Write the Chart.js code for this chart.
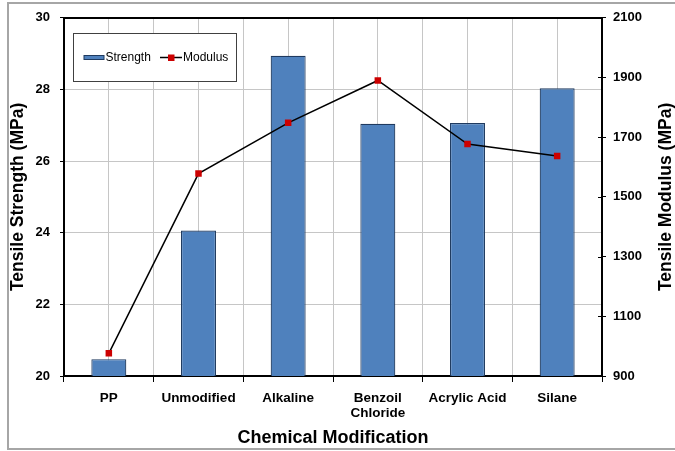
<!DOCTYPE html>
<html>
<head>
<meta charset="utf-8">
<script src="https://cdn.jsdelivr.net/npm/chart.js@4.4.1/dist/chart.umd.min.js"></script>
<style>
  html,body{margin:0;padding:0;background:#fff;}
  #wrap{width:675px;height:451px;position:relative;}
</style>
</head>
<body>
<div id="wrap"><canvas id="c" width="675" height="451"></canvas></div>
<script>
const categories = ['PP', 'Unmodified', 'Alkaline', ['Benzoil', 'Chloride'], 'Acrylic Acid', 'Silane'];
const strengthValues = [20.47, 24.06, 28.94, 27.04, 27.06, 28.03];
const modulusValues = [976, 1578, 1748, 1890, 1677, 1637];
const strengthTicks = [20, 22, 24, 26, 28, 30];
const modulusTicks = [900, 1100, 1300, 1500, 1700, 1900, 2100];
const seriesNames = ['Strength', 'Modulus'];
const xTitle = 'Chemical Modification';
const yTitle = 'Tensile Strength (MPa)';
const y1Title = 'Tensile Modulus (MPa)';

const FONT = "'Liberation Sans', Arial, sans-serif";
const BAR_FILL = '#4F81BD';
const BAR_EDGE = '#1F3A5F';
const MARK = '#CC0000';
const GRID = '#C6C6C6';

const frame = {
  id: 'frame',
  beforeDraw(chart) {
    const ctx = chart.ctx;
    ctx.save();
    ctx.fillStyle = '#fff';
    ctx.fillRect(0, 0, chart.width, chart.height);
    ctx.strokeStyle = '#A6A6A6';
    ctx.lineWidth = 2;
    ctx.strokeRect(8, 3, 720, 446);
    ctx.restore();
  },
  afterDraw(chart) {
    const ctx = chart.ctx;
    const s = chart.scales.y1;
    ctx.save();
    // inner half of right-axis cross ticks
    ctx.strokeStyle = '#000';
    ctx.lineWidth = 1;
    s.ticks.forEach(t => {
      const y = Math.round(s.getPixelForValue(t.value)) + 0.5;
      ctx.beginPath();
      ctx.moveTo(s.left - 4, y);
      ctx.lineTo(s.left, y);
      ctx.stroke();
    });
    // right axis title, reading bottom-to-top
    ctx.save();
    ctx.translate(666, (chart.chartArea.top + chart.chartArea.bottom) / 2);
    ctx.rotate(-Math.PI / 2);
    ctx.font = 'bold 17.5px ' + FONT;
    ctx.textAlign = 'center';
    ctx.textBaseline = 'middle';
    ctx.fillStyle = '#000';
    ctx.fillText(y1Title, 0, 0);
    ctx.restore();
    // legend
    const bar = chart.data.datasets.find(d => d.type === 'bar');
    const line = chart.data.datasets.find(d => d.type === 'line');
    const L = 73, T = 33, R = 236, B = 81;
    ctx.fillStyle = '#fff';
    ctx.fillRect(L, T, R - L, B - T);
    ctx.strokeStyle = '#404040';
    ctx.lineWidth = 1;
    ctx.strokeRect(L + 0.5, T + 0.5, R - L, B - T);
    const cy = 57.5;
    ctx.fillStyle = bar.backgroundColor;
    ctx.fillRect(84, 55.5, 20, 4);
    ctx.strokeStyle = bar.borderColor;
    ctx.strokeRect(84, 55.5, 20, 4);
    ctx.font = '12px ' + FONT;
    ctx.textBaseline = 'middle';
    ctx.textAlign = 'left';
    ctx.fillStyle = '#000';
    ctx.fillText(bar.label, 105.5, cy);
    ctx.strokeStyle = line.borderColor;
    ctx.lineWidth = 1.5;
    ctx.beginPath();
    ctx.moveTo(160, cy);
    ctx.lineTo(182, cy);
    ctx.stroke();
    ctx.fillStyle = line.pointBackgroundColor;
    ctx.fillRect(168, cy - 3, 6.5, 6.5);
    ctx.fillStyle = '#000';
    ctx.fillText(line.label, 183, cy);
    ctx.restore();
  }
};

new Chart(document.getElementById('c'), {
  data: {
    labels: categories,
    datasets: [
      {
        type: 'line',
        label: seriesNames[1],
        data: modulusValues,
        yAxisID: 'y1',
        xAxisID: 'x',
        borderColor: '#000',
        borderWidth: 1.5,
        pointStyle: 'rect',
        pointRadius: 4.6,
        pointBackgroundColor: MARK,
        pointBorderColor: MARK,
        pointBorderWidth: 0,
        tension: 0,
        order: 0
      },
      {
        type: 'bar',
        label: seriesNames[0],
        data: strengthValues,
        yAxisID: 'y',
        xAxisID: 'x',
        backgroundColor: BAR_FILL,
        borderColor: BAR_EDGE,
        borderWidth: 1.2,
        borderSkipped: false,
        categoryPercentage: 1,
        barPercentage: 0.39,
        order: 1
      }
    ]
  },
  options: {
    responsive: false,
    animation: false,
    devicePixelRatio: 1,
    layout: { padding: { left: 0, right: 0, top: 16, bottom: 0 } },
    plugins: { legend: { display: false }, tooltip: { enabled: false } },
    scales: {
      x: {
        type: 'category',
        position: 'bottom',
        offset: true,
        grid: { offset: true, drawOnChartArea: false, drawTicks: true, tickLength: 6, color: '#000', lineWidth: 1 },
        border: { display: true, color: '#000', width: 2 },
        ticks: {
          color: '#000', font: { family: FONT, size: 13.5, weight: 'bold', lineHeight: 1.1 },
          padding: 9, maxRotation: 0, autoSkip: false
        },
        title: { display: true, text: xTitle, color: '#000', font: { family: FONT, size: 18, weight: 'bold' }, padding: { top: 0, bottom: 2 } },
        afterFit(s) { s.height = 75; }
      },
      xg: {
        type: 'linear',
        position: 'top',
        min: -0.5, max: 5.5,
        afterBuildTicks(s) {
          const v = [];
          for (let i = 0; i < categories.length; i++) { v.push(i - 0.5, i); }
          v.push(categories.length - 0.5);
          s.ticks = v.map(x => ({ value: x }));
        },
        grid: {
          drawTicks: false,
          color: ctx => (ctx.tick && (ctx.tick.value === -0.5 || ctx.tick.value === 5.5)) ? 'rgba(0,0,0,0)' : GRID,
          lineWidth: 1
        },
        border: { display: true, color: '#000', width: 2 },
        ticks: { display: false },
        afterFit(s) { s.height = 0; }
      },
      y: {
        type: 'linear',
        position: 'left',
        min: strengthTicks[0], max: strengthTicks[strengthTicks.length - 1],
        afterBuildTicks(s) { s.ticks = strengthTicks.map(v => ({ value: v })); },
        grid: {
          color: ctx => (ctx.tick && (ctx.tick.value === 20 || ctx.tick.value === 30)) ? 'rgba(0,0,0,0)' : GRID,
          tickColor: '#000',
          tickLength: 4,
          lineWidth: 1
        },
        border: { display: true, color: '#000', width: 2 },
        ticks: { color: '#000', font: { family: FONT, size: 13, weight: 'bold' }, padding: 10 },
        title: { display: true, text: yTitle, color: '#000', font: { family: FONT, size: 17.5, weight: 'bold' }, padding: { top: 8, bottom: 0 } },
        afterFit(s) { s.width = 64; }
      },
      y1: {
        type: 'linear',
        position: 'right',
        min: modulusTicks[0], max: modulusTicks[modulusTicks.length - 1],
        afterBuildTicks(s) { s.ticks = modulusTicks.map(v => ({ value: v })); },
        grid: { drawOnChartArea: false, tickColor: '#000', tickLength: 4, lineWidth: 1 },
        border: { display: true, color: '#000', width: 2 },
        ticks: { color: '#000', font: { family: FONT, size: 13, weight: 'bold' }, padding: 7, callback: v => String(v) },
        title: { display: false },
        afterFit(s) { s.width = 73; }
      }
    }
  },
  plugins: [frame]
});
</script>
</body>
</html>
